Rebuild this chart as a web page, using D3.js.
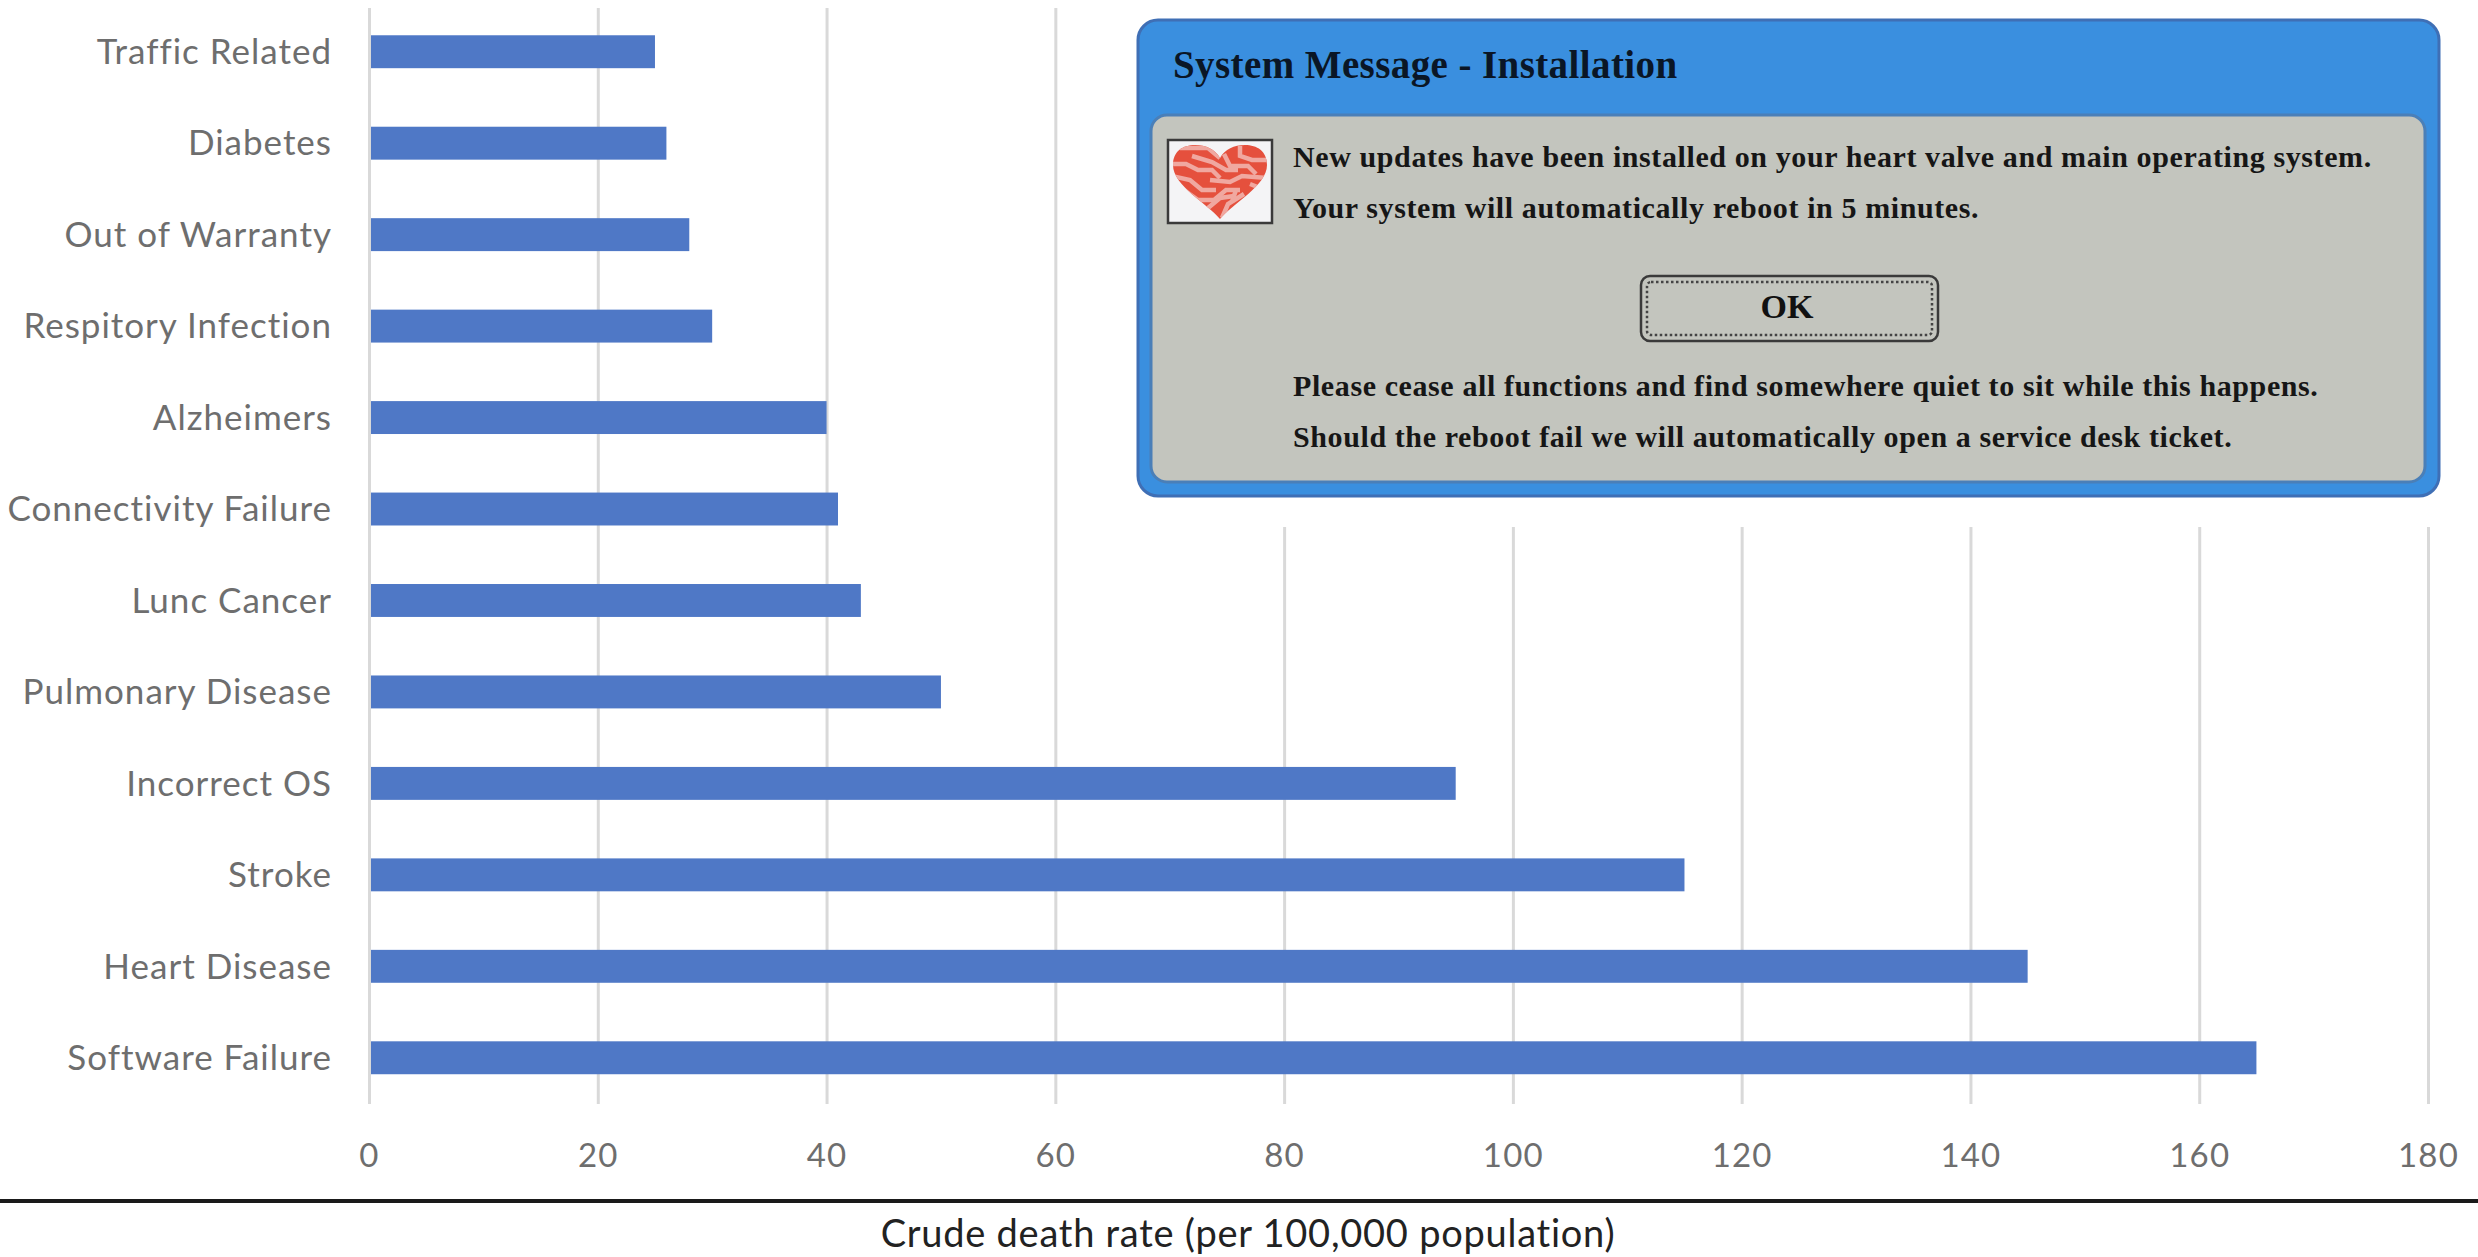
<!DOCTYPE html>
<html>
<head>
<meta charset="utf-8">
<script src="https://cdnjs.cloudflare.com/ajax/libs/d3/7.8.5/d3.min.js"></script>
<style>
  html, body { margin: 0; padding: 0; background: #fff; }
  svg { display: block; }
</style>
</head>
<body>
<svg id="chart" width="2478" height="1257"></svg>
<script>
// Crude death rate by cause, most common at the bottom.
const categories = ["Traffic Related", "Diabetes", "Out of Warranty", "Respitory Infection", "Alzheimers",
  "Connectivity Failure", "Lunc Cancer", "Pulmonary Disease", "Incorrect OS", "Stroke", "Heart Disease", "Software Failure"];
const rates = [25, 26, 28, 30, 40, 41, 43, 50, 95, 115, 145, 165];
const xTicks = [0, 20, 40, 60, 80, 100, 120, 140, 160, 180];
const axisTitle = "Crude death rate (per 100,000 population)";
const dialogTitle = "System Message - Installation";
const dialogTop = ["New updates have been installed on your heart valve and main operating system.",
  "Your system will automatically reboot in 5 minutes."];
const dialogBottom = ["Please cease all functions and find somewhere quiet to sit while this happens.",
  "Should the reboot fail we will automatically open a service desk ticket."];
const buttonLabel = "OK";

const svg = d3.select("#chart");
const sans = "Lato, 'Noto Sans', sans-serif";
const serif = "'Liberation Serif', 'DejaVu Serif', serif";

const x = d3.scaleLinear().domain([0, 180]).range([369, 2428]);
const y = d3.scaleBand().domain(categories).range([6, 1103.5]).paddingInner(0.64).paddingOuter(0.32);

// Vertical grid lines and value labels come from the axis generator.
const xAxis = d3.axisBottom(x).tickValues(xTicks).tickSize(1104 - 8).tickPadding(40).tickFormat(d3.format("d"));
const gx = svg.append("g").attr("transform", "translate(0,8)").call(xAxis);
gx.select(".domain").remove();
gx.selectAll(".tick line").attr("stroke", "#d9d9d9").attr("stroke-width", 3);
gx.selectAll(".tick text").attr("fill", "#6e6e6e").attr("font-family", sans).attr("font-size", 33).attr("letter-spacing", 1.2);

// Bars
svg.append("g").selectAll("rect").data(rates).join("rect")
  .attr("x", x(0) + 2)
  .attr("y", (d, i) => y(categories[i]))
  .attr("width", d => x(d) - x(0) - 2)
  .attr("height", y.bandwidth())
  .attr("fill", "#4f78c6");

// Category labels
svg.append("g").selectAll("text").data(categories).join("text")
  .attr("x", 332)
  .attr("y", d => y(d) + y.bandwidth() / 2)
  .attr("dy", "0.35em")
  .attr("text-anchor", "end")
  .attr("fill", "#6e6e6e")
  .attr("font-family", sans)
  .attr("font-size", 35)
  .attr("letter-spacing", 1)
  .text(d => d);

// Baseline rule and axis title
svg.append("rect").attr("x", 0).attr("y", 1199).attr("width", 2478).attr("height", 4).attr("fill", "#1a1a1a");
svg.append("text").attr("x", 1248).attr("y", 1247).attr("text-anchor", "middle")
  .attr("fill", "#222").attr("font-family", sans).attr("font-size", 38).attr("letter-spacing", 0.75).text(axisTitle);

// Dialog box laid over the upper right of the plot, on a white backing that hides the grid.
svg.append("rect").attr("x", 1120).attr("y", 0).attr("width", 1358).attr("height", 527).attr("fill", "#fff");
const dlg = svg.append("g");
dlg.append("rect").attr("x", 1138).attr("y", 20).attr("width", 1301).attr("height", 476).attr("rx", 20)
  .attr("fill", "#3a8fdf").attr("stroke", "#3f6fb5").attr("stroke-width", 3);
dlg.append("rect").attr("x", 1151).attr("y", 115).attr("width", 1274).attr("height", 367).attr("rx", 16)
  .attr("fill", "#c3c5be").attr("stroke", "#4a7fb8").attr("stroke-width", 3);

const serifText = (t, tx, ty, size, fill, spacing) => dlg.append("text")
  .attr("x", tx).attr("y", ty)
  .attr("font-family", serif).attr("font-weight", 700).attr("font-size", size)
  .attr("letter-spacing", spacing)
  .attr("fill", fill).text(t);

serifText(dialogTitle, 1173, 78, 39, "#0a1626", 0.4);
dialogTop.forEach((t, i) => serifText(t, 1293, 167 + i * 51, 30, "#161616", 0.6));
dialogBottom.forEach((t, i) => serifText(t, 1293, 396 + i * 51, 30, "#161616", 0.6));

// OK button with its dotted focus ring
dlg.append("rect").attr("x", 1641).attr("y", 276).attr("width", 297).attr("height", 65).attr("rx", 9)
  .attr("fill", "none").attr("stroke", "#3a3a3a").attr("stroke-width", 2.5);
dlg.append("rect").attr("x", 1647).attr("y", 282).attr("width", 285).attr("height", 53).attr("rx", 4)
  .attr("fill", "none").attr("stroke", "#444").attr("stroke-width", 2.5).attr("stroke-dasharray", "2.5 2.5");
serifText(buttonLabel, 1787, 318, 34, "#111", 0).attr("text-anchor", "middle");

// Heart icon with circuit traces
const icon = dlg.append("g").attr("transform", "translate(1168,140)");
icon.append("rect").attr("width", 104).attr("height", 83).attr("fill", "#f4f4f6").attr("stroke", "#3a3a3a").attr("stroke-width", 2.5);
const heartPath = "M52 79 C40 64 5 46 5 25 C5 11 15 5 27 5 C38 5 47 9 52 18 C57 9 66 5 77 5 C89 5 99 11 99 25 C99 46 64 64 52 79 Z";
icon.append("path").attr("d", heartPath).attr("fill", "#e5503d");
icon.append("clipPath").attr("id", "heartClip").append("path").attr("d", heartPath);
icon.append("g").attr("clip-path", "url(#heartClip)").selectAll("path")
  .data([
    "M12 8 L40 8 L52 18", "M2 24 L18 24 L30 30 L44 30 L52 38", "M4 36 L22 40 L34 50 L48 50",
    "M24 16 L44 22 L58 30 L70 30", "M56 14 L62 26 L80 26 L88 34", "M72 6 L72 16 L84 20 L100 20",
    "M42 40 L62 42 L74 36 L100 38", "M16 50 L30 60 L46 60 L58 50 L72 50", "M40 68 L52 58 L66 56",
    "M54 78 L60 64 L76 54", "M64 62 L68 50", "M82 44 L92 48"
  ])
  .join("path").attr("d", d => d).attr("fill", "none").attr("stroke", "#f0a8a0").attr("stroke-width", 4.5);
</script>
</body>
</html>
